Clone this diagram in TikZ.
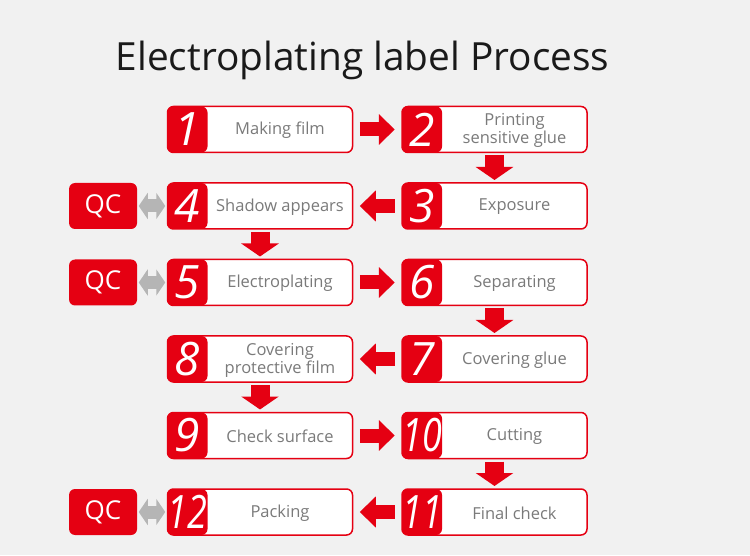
\documentclass[tikz,border=0pt]{standalone}
\usepackage{fontspec}
\setmainfont{Open Sans}
\usepackage{graphicx}
\usetikzlibrary{positioning,arrows.meta}
\definecolor{stepred}{HTML}{E50012}
\definecolor{labelgray}{HTML}{7A7A7A}
\definecolor{qcgray}{HTML}{B5B5B5}
\definecolor{paper}{HTML}{F1F1F1}
\definecolor{titleblack}{HTML}{1A1A1A}

\begin{document}
\begin{tikzpicture}[x=1pt,y=1pt]
	\tikzstyle{stepbox}=[draw=stepred,line width=1.5pt,rounded corners=6pt,fill=white,minimum width=185pt,minimum height=46pt,inner sep=0pt,path picture={\fill[stepred](path picture bounding box.south west) rectangle ([xshift=40pt]path picture bounding box.north west);}]
	\tikzstyle{numtext}=[text=white,font=\fontsize{46}{46}\selectfont\itshape,xshift=-72.5pt,inner sep=0pt]
	\tikzstyle{steptext}=[text=labelgray,font=\fontsize{16.5}{18}\selectfont,align=center,xshift=20pt,yshift=-1pt,inner sep=0pt]
	\tikzstyle{qcbox}=[fill=stepred,rounded corners=6pt,minimum width=68pt,minimum height=46pt,inner sep=0pt,text=white,font=\fontsize{26}{26}\selectfont]
	\tikzstyle{sideflow}=[draw=stepred,line width=14pt,-{Triangle[length=16pt,width=30pt]},shorten <=6.5pt,shorten >=6.5pt]
	\tikzstyle{downflow}=[draw=stepred,line width=19pt,-{Triangle[length=13pt,width=37pt]},shorten <=2.25pt,shorten >=2.25pt]
	\tikzstyle{qclink}=[draw=qcgray,line width=13pt,{Triangle[length=9pt,width=26pt]}-{Triangle[length=9pt,width=26pt]},shorten <=1.5pt,shorten >=1.5pt]

	\fill[paper](0,0) rectangle (750,555);

	\node[font=\fontsize{38.8}{38.8}\selectfont,text=titleblack,anchor=base](title) at (362.5,484){Electroplating label Process};

	\node[stepbox,label={[numtext]center:1},label={[steptext]center:Making film}](making_film) at (260,425.5){};
	\node[stepbox,right=48pt of making_film,label={[numtext]center:2},label={[steptext]center:{Printing\\sensitive glue}}](printing_glue){};
	\node[stepbox,below=29pt of printing_glue,label={[numtext]center:3},label={[steptext]center:Exposure}](exposure){};
	\node[stepbox,left=48pt of exposure,label={[numtext]center:4},label={[steptext]center:Shadow appears}](shadow){};
	\node[stepbox,below=29pt of shadow,label={[numtext]center:5},label={[steptext]center:Electroplating}](electroplating){};
	\node[stepbox,right=48pt of electroplating,label={[numtext]center:6},label={[steptext]center:Separating}](separating){};
	\node[stepbox,below=29pt of separating,label={[numtext]center:7},label={[steptext]center:Covering glue}](covering_glue){};
	\node[stepbox,left=48pt of covering_glue,label={[numtext]center:8},label={[steptext]center:{Covering\\protective film}}](covering_film){};
	\node[stepbox,below=29pt of covering_film,label={[numtext]center:9},label={[steptext]center:Check surface}](check_surface){};
	\node[stepbox,right=48pt of check_surface,label={[numtext]center:\scalebox{0.78}[1]{10}},label={[steptext]center:Cutting}](cutting){};
	\node[stepbox,below=29pt of cutting,label={[numtext]center:\scalebox{0.78}[1]{11}},label={[steptext]center:Final check}](final_check){};
	\node[stepbox,left=48pt of final_check,label={[numtext]center:\scalebox{0.78}[1]{12}},label={[steptext]center:Packing}](packing){};

	\node[qcbox,left=29.5pt of shadow](qc_shadow){QC};
	\node[qcbox,left=29.5pt of electroplating](qc_electroplating){QC};
	\node[qcbox,left=29.5pt of packing](qc_packing){QC};

	\draw[sideflow](making_film) -- (printing_glue);
	\draw[downflow](printing_glue) -- (exposure);
	\draw[sideflow](exposure) -- (shadow);
	\draw[downflow](shadow) -- (electroplating);
	\draw[sideflow](electroplating) -- (separating);
	\draw[downflow](separating) -- (covering_glue);
	\draw[sideflow](covering_glue) -- (covering_film);
	\draw[downflow](covering_film) -- (check_surface);
	\draw[sideflow](check_surface) -- (cutting);
	\draw[downflow](cutting) -- (final_check);
	\draw[sideflow](final_check) -- (packing);

	\draw[qclink](qc_shadow) -- (shadow);
	\draw[qclink](qc_electroplating) -- (electroplating);
	\draw[qclink](qc_packing) -- (packing);
\end{tikzpicture}
\end{document}
